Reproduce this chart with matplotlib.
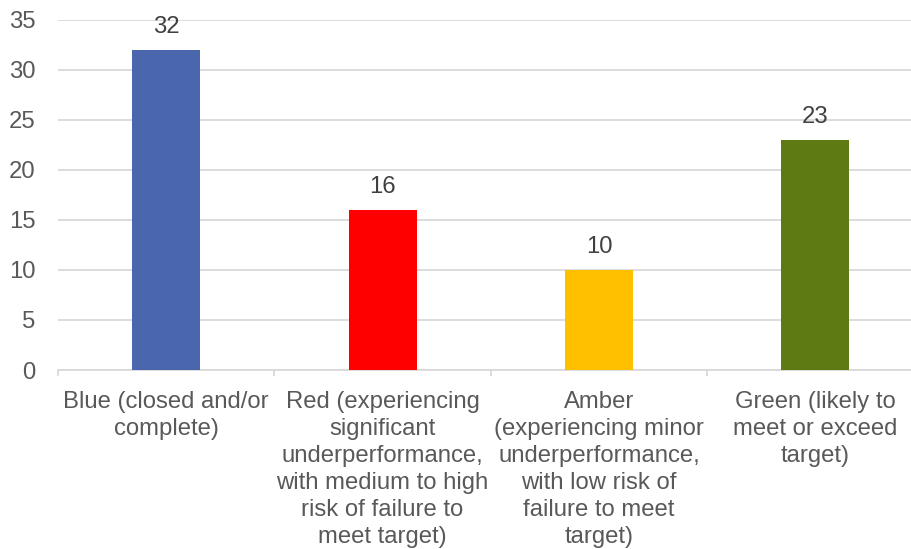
import matplotlib
matplotlib.use("Agg")
import matplotlib.pyplot as plt

categories = [
    "Blue (closed and/or\ncomplete)",
    "Red (experiencing\nsignificant\nunderperformance,\nwith medium to high\nrisk of failure to\nmeet target)",
    "Amber\n(experiencing minor\nunderperformance,\nwith low risk of\nfailure to meet\ntarget)",
    "Green (likely to\nmeet or exceed\ntarget)",
]
values = [32, 16, 10, 23]
colors = ["#4A66AC", "#FF0000", "#FFC000", "#5E7A12"]

plt.rcParams['font.family'] = ['Liberation Sans', 'DejaVu Sans']
text_col = "#595959"
grid_col = "#D9D9D9"
fs = 17.2

fig = plt.figure(figsize=(9.12, 5.49), dpi=100)
ax = fig.add_axes([0.0636, 0.326, 0.949, 0.638])

x = list(range(len(values)))
ax.bar(x, values, width=0.314, color=colors, zorder=3)
for xi, v in zip(x, values):
    ax.annotate(str(v), (xi, v), xytext=(0, 8.5), textcoords="offset points",
                ha="center", va="bottom", fontsize=fs, color="#404040")

ax.set_xlim(-0.5, len(values) - 0.5)
ax.set_ylim(0, 35)
ax.set_yticks(range(0, 36, 5))
ax.yaxis.grid(True, color=grid_col, linewidth=1.3, zorder=0)
ax.set_axisbelow(True)

for s in ["top", "right", "left"]:
    ax.spines[s].set_visible(False)
ax.spines["bottom"].set_color(grid_col)
ax.spines["bottom"].set_linewidth(1.3)

ax.set_xticks(x)
ax.set_xticklabels(categories, fontsize=fs, color=text_col, linespacing=1.3)
ax.set_xticks([i - 0.5 for i in range(len(values) + 1)], minor=True)
ax.tick_params(axis="x", which="major", length=0, pad=15)
ax.tick_params(axis="x", which="minor", length=4, color=grid_col, width=1.3)
ax.tick_params(axis="y", length=0, pad=16, labelsize=fs, labelcolor=text_col)

fig.savefig("out.png", dpi=100)
